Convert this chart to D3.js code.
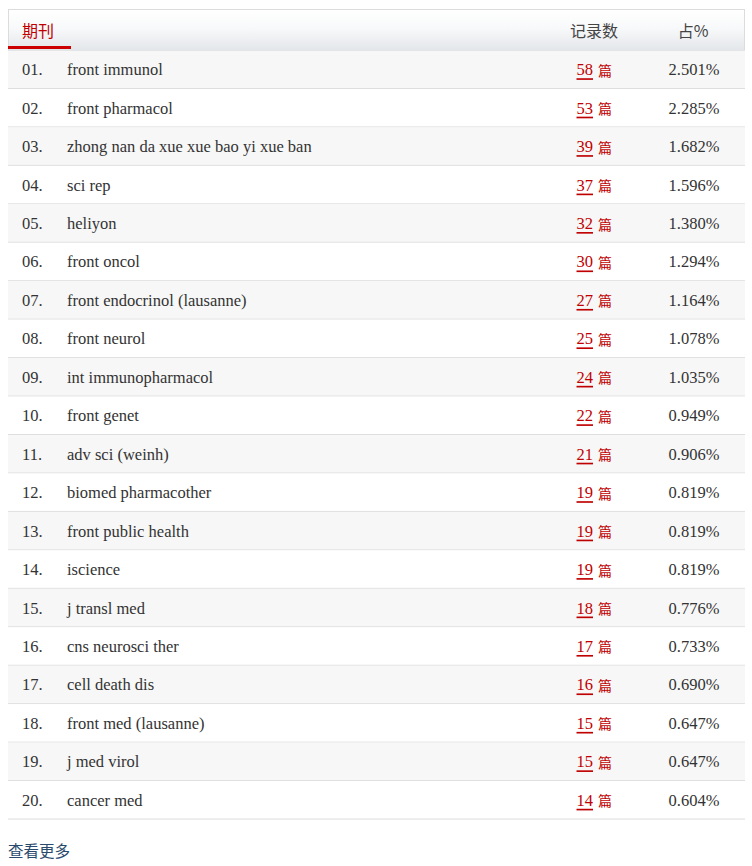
<!DOCTYPE html>
<html><head><meta charset="utf-8">
<script src="https://cdn.jsdelivr.net/npm/d3@7"></script>
<style>
html,body{margin:0;padding:0;background:#fff;}
svg{display:block;}
</style></head>
<body>
<svg id="c" width="752" height="866"></svg>
<script>
const ranks = ["01.","02.","03.","04.","05.","06.","07.","08.","09.","10.","11.","12.","13.","14.","15.","16.","17.","18.","19.","20."];
const journals = ["front immunol","front pharmacol","zhong nan da xue xue bao yi xue ban","sci rep","heliyon","front oncol","front endocrinol (lausanne)","front neurol","int immunopharmacol","front genet","adv sci (weinh)","biomed pharmacother","front public health","iscience","j transl med","cns neurosci ther","cell death dis","front med (lausanne)","j med virol","cancer med"];
const counts = [58,53,39,37,32,30,27,25,24,22,21,19,19,19,18,17,16,15,15,14];
const percents = ["2.501%","2.285%","1.682%","1.596%","1.380%","1.294%","1.164%","1.078%","1.035%","0.949%","0.906%","0.819%","0.819%","0.819%","0.776%","0.733%","0.690%","0.647%","0.647%","0.604%"];
const headers = ["期刊","记录数","占%"];
const moreLabel = "查看更多";
const unit = "篇";

const svg = d3.select("#c");
const L = 8, R = 745, headTop = 9, headBot = 50, tableBot = 819;
const serif = "'Liberation Serif', 'DejaVu Serif', serif";
const cjk = "'Noto Sans CJK SC', sans-serif";

const defs = svg.append("defs");
const g = defs.append("linearGradient").attr("id","hg").attr("x1",0).attr("y1",0).attr("x2",0).attr("y2",1);
g.append("stop").attr("offset","0%").attr("stop-color","#ffffff");
g.append("stop").attr("offset","45%").attr("stop-color","#f8f9fa");
g.append("stop").attr("offset","100%").attr("stop-color","#e3e6ea");

const y = d3.scaleBand().domain(d3.range(ranks.length)).range([headBot, tableBot]);

// header
svg.append("rect").attr("x",L+0.5).attr("y",headTop+0.5).attr("width",R-L-1).attr("height",headBot-headTop)
  .attr("fill","url(#hg)").attr("stroke","#dcdcdc");
svg.append("line").attr("x1",L).attr("x2",R).attr("y1",headBot+0.5).attr("y2",headBot+0.5).attr("stroke","#d0d3d6");
svg.append("rect").attr("x",L).attr("y",headBot-4).attr("width",63).attr("height",3).attr("fill","#cc0000");

const hy = 30;
svg.append("text").attr("x",22).attr("y",hy).attr("dominant-baseline","central")
  .attr("font-family",cjk).attr("font-size",16).attr("fill","#c00000").text(headers[0]);
svg.append("text").attr("x",594).attr("y",hy).attr("dominant-baseline","central").attr("text-anchor","middle")
  .attr("font-family",cjk).attr("font-size",16).attr("fill","#444").text(headers[1]);
svg.append("text").attr("x",693).attr("y",hy).attr("dominant-baseline","central").attr("text-anchor","middle")
  .attr("font-family",cjk).attr("font-size",16).attr("fill","#444").text(headers[2]);

// rows
const rows = svg.selectAll("g.row").data(d3.range(ranks.length)).join("g").attr("class","row")
  .attr("transform", i => `translate(0,${y(i)})`);
rows.append("rect").attr("x",L).attr("y",0.5).attr("width",R-L).attr("height",y.bandwidth())
  .attr("fill", i => i%2===0 ? "#f7f7f7" : "#ffffff");
rows.append("line").attr("x1",L).attr("x2",R).attr("y1",Math.round(y.bandwidth())+0.5).attr("y2",Math.round(y.bandwidth())+0.5)
  .attr("stroke","#dddddd");
const cy = y.bandwidth()/2 + 0.5;
const fs = 16.5;
rows.append("text").attr("x",22).attr("y",cy).attr("dominant-baseline","central")
  .attr("font-family",serif).attr("font-size",fs).attr("fill","#333").text(i => ranks[i]);
rows.append("text").attr("x",67).attr("y",cy).attr("dominant-baseline","central")
  .attr("font-family",serif).attr("font-size",fs).attr("fill","#333").text(i => journals[i]);
rows.append("text").attr("x",593).attr("y",cy).attr("dominant-baseline","central").attr("text-anchor","end")
  .attr("font-family",serif).attr("font-size",fs).attr("fill","#c00000")
  .attr("text-decoration","underline").text(i => counts[i]);
rows.append("text").attr("x",598).attr("y",cy).attr("dominant-baseline","central")
  .attr("font-family",cjk).attr("font-size",14).attr("fill","#c00000").text(unit);
rows.append("text").attr("x",694).attr("y",cy).attr("dominant-baseline","central").attr("text-anchor","middle")
  .attr("font-family",serif).attr("font-size",fs).attr("fill","#333").text(i => percents[i]);

svg.append("text").attr("x",8).attr("y",850).attr("dominant-baseline","central")
  .attr("font-family",cjk).attr("font-size",15.5).attr("fill","#2a4a6d").text(moreLabel);
</script>
</body></html>
